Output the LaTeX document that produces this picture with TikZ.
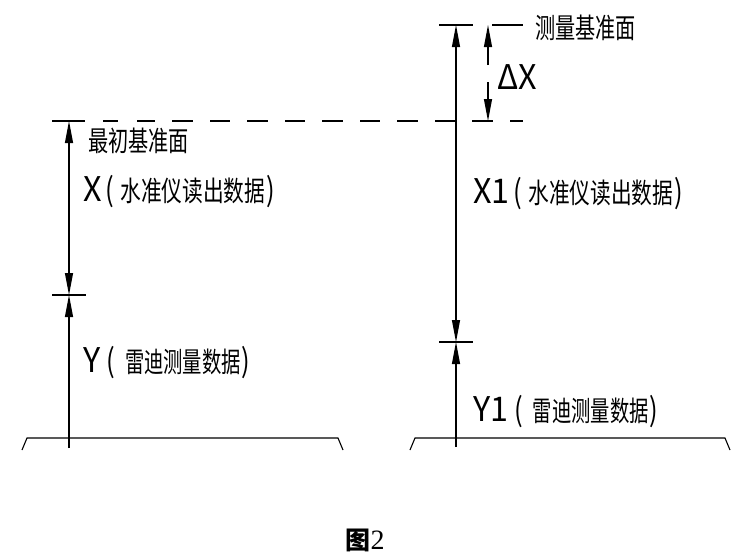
\documentclass[tikz,border=0pt]{standalone}
\usepackage{fontspec}
\usetikzlibrary{arrows.meta}
\newfontfamily\cjkS{Noto Sans CJK SC}[FakeStretch=0.72]
\newfontfamily\cjkB{Noto Sans CJK SC}[FakeStretch=0.74]
\newfontfamily\cjkY{Noto Sans CJK SC}[FakeStretch=0.69]
\newfontfamily\cjkcap{Noto Sans CJK SC}
\newfontfamily\cadlat{Noto Sans CJK SC}[FakeStretch=0.95]
\newfontfamily\cadpar{Noto Sans CJK SC}[FakeStretch=0.8]
\newfontfamily\capserif{Liberation Serif}
\newcommand{\lat}[1]{{\cadlat\fontsize{34}{34}\selectfont #1}}
\newcommand{\lp}{\hspace{4pt}{\cadpar\fontsize{32}{32}\selectfont(}\hspace{6pt}}
\newcommand{\lpY}{\hspace{6pt}{\cadpar\fontsize{32}{32}\selectfont(}\hspace{10pt}}
\newcommand{\rp}{\hspace{1pt}{\cadpar\fontsize{32}{32}\selectfont)}}
\tikzset{
  dim/.style={line width=1.1pt},
  tip/.style={-{Triangle[length=22pt,width=8pt]}},
  tiptwo/.style={{Triangle[length=22pt,width=8pt]}-{Triangle[length=22pt,width=8pt]}},
  lbl/.style={anchor=west,inner sep=0pt},
  small/.style={font=\cjkS\fontsize{28}{28}\selectfont},
  big/.style={font=\cjkB\fontsize{28}{28}\selectfont},
  ylbl/.style={font=\cjkY\fontsize{28}{28}\selectfont},
}
\begin{document}
\begin{tikzpicture}[x=1pt,y=-1pt]
\useasboundingbox (0,0) rectangle (745,558);
% coordinates
\coordinate (Ltop) at (69,121);
\coordinate (Lmid) at (69,295);
\coordinate (Lbot) at (69,448);
\coordinate (Rtop) at (456,25);
\coordinate (Rmid) at (456,342);
\coordinate (Rbot) at (456,447);
\coordinate (Dtop) at (488,25);
\coordinate (Du) at (488,65);
\coordinate (Dl) at (488,82);
\coordinate (Dbot) at (488,121);
% dashed datum line
\foreach \a/\b in {52/85,103/118,137/155,172/193,210/230,247/268,285/305,322/343,360/380,397/418,435/457,472/493,510/523}
  \draw[dim] (\a,121) -- (\b,121);
% left dimension
\draw[dim,tiptwo] (Ltop) -- (Lmid);
\draw[dim,tip] (Lbot) -- (Lmid);
\draw[dim] (52,295) -- (86,295);
% right dimension
\draw[dim,tiptwo] (Rtop) -- (Rmid);
\draw[dim,tip] (Rbot) -- (Rmid);
\draw[dim] (439,342) -- (473,342);
\draw[dim] (439,25) -- (473,25);
\draw[dim] (492,25) -- (523,25);
% delta X
\draw[dim,tip] (Du) -- (Dtop);
\draw[dim,tip] (Dl) -- (Dbot);
% ground lines
\draw[dim] (22,450) -- (27,438) -- (338,438) -- (343,450);
\draw[dim] (410,450) -- (415,438) -- (725,438) -- (730,450);
% labels
\node[lbl,small] (t1) at (88,141) {最初基准面};
\node[lbl,big] (t2) at (83,192) {\lat{X}\lp 水准仪读出数据\rp};
\node[lbl,ylbl] (t3) at (83,363) {\lat{Y}\lpY 雷迪测量数据\rp};
\node[lbl,small] (t4) at (535,28) {测量基准面};
\node[lbl] (t5) at (497,77) {\lat{ΔX}};
\node[lbl,big] (t6) at (473,194) {\lat{X1}\lp 水准仪读出数据\rp};
\node[lbl,ylbl] (t7) at (473,412) {\lat{Y1}\lpY 雷迪测量数据\rp};
\node[inner sep=0pt] (cap) at (365,540) {{\cjkcap\bfseries\fontsize{25}{25}\selectfont 图}{\capserif\fontsize{28}{28}\selectfont 2}};
\end{tikzpicture}
\end{document}
